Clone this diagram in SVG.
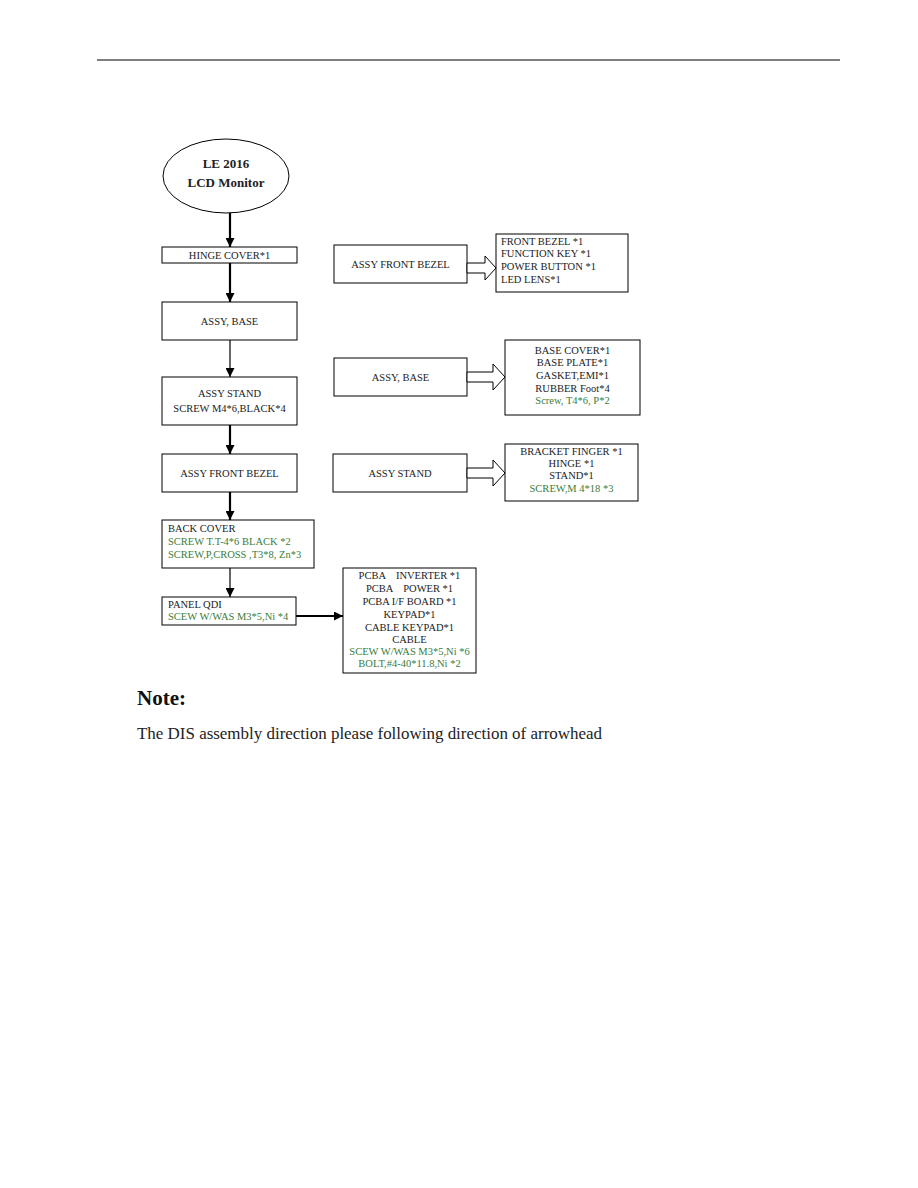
<svg xmlns="http://www.w3.org/2000/svg" width="918" height="1188" viewBox="0 0 918 1188">
<defs>
<style>
.box{fill:#fff;stroke:#000;stroke-width:1}
.t{font-family:"Liberation Serif","Times New Roman",serif;font-size:10.5px;fill:#222;white-space:pre}
.c{text-anchor:middle}
.g{fill:#3a7d3a}
.thick{stroke:#000;stroke-width:2.2;fill:none}
.thin{stroke:#000;stroke-width:1.2;fill:none}
.hollow{fill:#fff;stroke:#000;stroke-width:1}
</style>
<marker id="ah2" viewBox="0 0 10 10" refX="10" refY="5" markerWidth="9" markerHeight="9" markerUnits="userSpaceOnUse" orient="auto">
<path d="M0,0 L10,5 L0,10 z" fill="#000"/>
</marker>
</defs>
<rect width="918" height="1188" fill="#fff"/>
<line x1="97" y1="60" x2="840" y2="60" stroke="#000" stroke-width="1"/>

<g id="start">
<ellipse cx="226" cy="176" rx="63" ry="37" class="box"/>
<text x="226" y="168" class="t c" style="font-size:13px;font-weight:bold">LE 2016</text>
<text x="226" y="187" class="t c" style="font-size:13px;font-weight:bold">LCD Monitor</text>
</g>

<g id="hinge-cover">
<rect x="162" y="247" width="135" height="16" class="box"/>
<text x="229.5" y="259" class="t c">HINGE COVER*1</text>
</g>
<g id="assy-base">
<rect x="162" y="302" width="135" height="38" class="box"/>
<text x="229.5" y="325" class="t c">ASSY, BASE</text>
</g>
<g id="assy-stand">
<rect x="162" y="377" width="135" height="48" class="box"/>
<text x="229.5" y="397" class="t c">ASSY STAND</text>
<text x="229.5" y="412" class="t c">SCREW M4*6,BLACK*4</text>
</g>
<g id="assy-front-bezel">
<rect x="162" y="454" width="135" height="38" class="box"/>
<text x="229.5" y="477" class="t c">ASSY FRONT BEZEL</text>
</g>
<g id="back-cover">
<rect x="162" y="520" width="152" height="48" class="box"/>
<text x="168" y="532" class="t">BACK COVER</text>
<text x="168" y="545" class="t g">SCREW T.T-4*6 BLACK *2</text>
<text x="168" y="558" class="t g">SCREW,P,CROSS ,T3*8, Zn*3</text>
</g>
<g id="panel-qdi">
<rect x="162" y="597" width="134" height="28" class="box"/>
<text x="168" y="608" class="t">PANEL QDI</text>
<text x="168" y="620" class="t g">SCEW W/WAS M3*5,Ni *4</text>
</g>
<g id="pcba-parts">
<rect x="343" y="568" width="133" height="105" class="box"/>
<text x="409.5" y="579" class="t c" xml:space="preserve">PCBA    INVERTER *1</text>
<text x="409.5" y="592" class="t c" xml:space="preserve">PCBA    POWER *1</text>
<text x="409.5" y="605" class="t c">PCBA I/F BOARD *1</text>
<text x="409.5" y="618" class="t c">KEYPAD*1</text>
<text x="409.5" y="631" class="t c">CABLE KEYPAD*1</text>
<text x="409.5" y="643" class="t c">CABLE</text>
<text x="409.5" y="655" class="t c g">SCEW W/WAS M3*5,Ni *6</text>
<text x="409.5" y="667" class="t c g">BOLT,#4-40*11.8,Ni *2</text>
</g>

<g id="r-front-bezel">
<rect x="334" y="245" width="133" height="38" class="box"/>
<text x="400.5" y="268" class="t c">ASSY FRONT BEZEL</text>
</g>
<g id="r-front-bezel-parts">
<rect x="496" y="234" width="132" height="58" class="box"/>
<text x="501" y="245" class="t">FRONT BEZEL *1</text>
<text x="501" y="257" class="t">FUNCTION KEY *1</text>
<text x="501" y="270" class="t">POWER BUTTON *1</text>
<text x="501" y="283" class="t">LED LENS*1</text>
</g>
<g id="r-base">
<rect x="334" y="358" width="133" height="38" class="box"/>
<text x="400.5" y="381" class="t c">ASSY, BASE</text>
</g>
<g id="r-base-parts">
<rect x="505" y="340" width="135" height="75" class="box"/>
<text x="572.5" y="354" class="t c">BASE COVER*1</text>
<text x="572.5" y="366" class="t c">BASE PLATE*1</text>
<text x="572.5" y="379" class="t c">GASKET,EMI*1</text>
<text x="572.5" y="392" class="t c">RUBBER Foot*4</text>
<text x="572.5" y="404" class="t c g">Screw, T4*6, P*2</text>
</g>
<g id="r-stand">
<rect x="333" y="454" width="134" height="38" class="box"/>
<text x="400" y="477" class="t c">ASSY STAND</text>
</g>
<g id="r-stand-parts">
<rect x="505" y="444" width="133" height="57" class="box"/>
<text x="571.5" y="455" class="t c">BRACKET FINGER *1</text>
<text x="571.5" y="467" class="t c">HINGE *1</text>
<text x="571.5" y="479" class="t c">STAND*1</text>
<text x="571.5" y="492" class="t c g">SCREW,M 4*18 *3</text>
</g>

<g id="connectors">
<line x1="230" y1="213" x2="230" y2="247" class="thick" marker-end="url(#ah2)"/>
<line x1="230" y1="263" x2="230" y2="302" class="thick" marker-end="url(#ah2)"/>
<line x1="230" y1="340" x2="230" y2="377" class="thin" marker-end="url(#ah2)"/>
<line x1="230" y1="425" x2="230" y2="454" class="thick" marker-end="url(#ah2)"/>
<line x1="230" y1="492" x2="230" y2="520" class="thick" marker-end="url(#ah2)"/>
<line x1="230" y1="568" x2="230" y2="597" class="thin" marker-end="url(#ah2)"/>
<line x1="296" y1="616" x2="343" y2="616" class="thick" marker-end="url(#ah2)"/>
<polygon points="467,263 485,263 485,256 496,268 485,280 485,273 467,273" class="hollow"/>
<polygon points="467,372 493,372 493,364 505,377 493,390 493,382 467,382" class="hollow"/>
<polygon points="467,468 493,468 493,460 505,473 493,486 493,478 467,478" class="hollow"/>
</g>

<text x="137" y="705" style="font-family:'Liberation Serif','Times New Roman',serif;font-size:21px;font-weight:bold;fill:#111">Note:</text>
<text x="137" y="739" textLength="465" lengthAdjust="spacingAndGlyphs" style="font-family:'Liberation Serif','Times New Roman',serif;font-size:16px;fill:#222">The DIS assembly direction please following direction of arrowhead</text>
</svg>
